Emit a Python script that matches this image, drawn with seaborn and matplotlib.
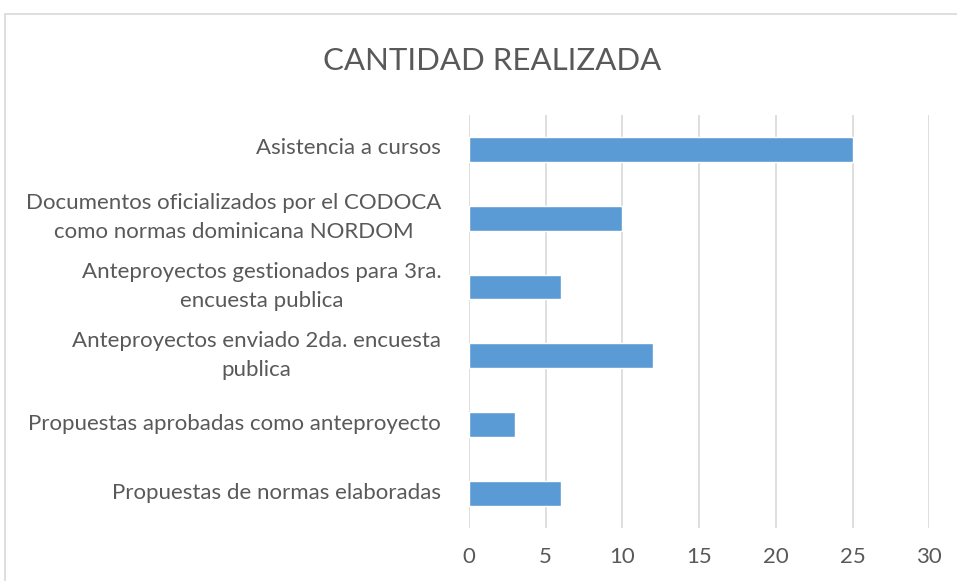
import matplotlib
matplotlib.use("Agg")
import matplotlib.pyplot as plt
import matplotlib.transforms as mtransforms
import seaborn as sns
import pandas as pd
from matplotlib.patches import Rectangle

# Data
categories = [
    "Asistencia a cursos",
    "Documentos oficializados por el CODOCA\ncomo normas dominicana NORDOM",
    "Anteproyectos gestionados para 3ra.\nencuesta publica",
    "Anteproyectos enviado 2da. encuesta\npublica",
    "Propuestas aprobadas como anteproyecto",
    "Propuestas de normas elaboradas",
]
values = [25, 10, 6, 12, 3, 6]
x_ticks = [0, 5, 10, 15, 20, 25, 30]

df = pd.DataFrame({"actividad": categories, "cantidad": values})

sns.set_style("white")
plt.rcParams["font.family"] = ["Lato", "DejaVu Sans"]

text_color = "#595959"
grid_color = "#d9d9d9"

fig = plt.figure(figsize=(9.57, 5.81), dpi=100)
ax = fig.add_axes([0.490, 0.0912, 0.481, 0.711])

sns.barplot(data=df, x="cantidad", y="actividad", orient="h",
            color="#5b9bd5", width=0.36, saturation=1, ax=ax)

ax.set_xlim(0, 30)
ax.set_xticks(x_ticks)
ax.set_xlabel("")
ax.set_ylabel("")
ax.xaxis.grid(True, color=grid_color, linewidth=1.2)
ax.set_axisbelow(True)
for s in ax.spines.values():
    s.set_visible(False)
ax.tick_params(axis="both", length=0, colors=text_color, labelsize=16)
ax.tick_params(axis="y", pad=20)
ax.tick_params(axis="x", pad=14)
for lbl in ax.get_yticklabels():
    lbl.set_multialignment("center")
    lbl.set_linespacing(1.55)
    # nudge labels up a bit to sit like the original
    shift = 7 if "\n" in lbl.get_text() else 3
    lbl.set_transform(lbl.get_transform() +
                      mtransforms.ScaledTranslation(0, shift / 100, fig.dpi_scale_trans))

fig.text(0.514, 0.895, "CANTIDAD REALIZADA", ha="center", va="center",
         fontsize=22.5, color=text_color)

# chart area border (Excel style), running off the right and bottom edges
fig.patches.append(Rectangle((5 / 957, -0.1), 1.2, 1 - 14 / 581 + 0.1,
                             transform=fig.transFigure, fill=False,
                             edgecolor=grid_color, linewidth=1.2))

fig.savefig("out.png", dpi=100, facecolor="white")
